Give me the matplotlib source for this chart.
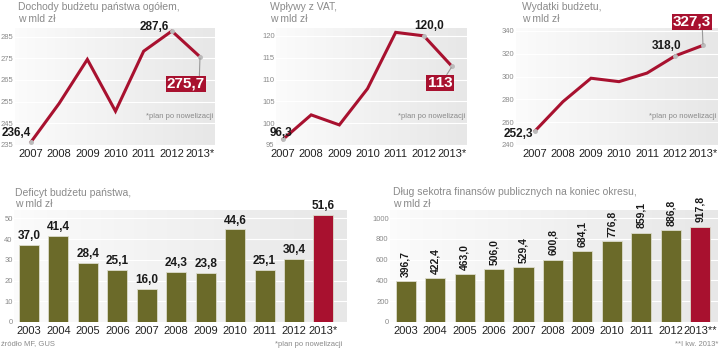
import matplotlib.pyplot as plt
import numpy as np
from matplotlib.colors import LinearSegmentedColormap

# ---- data ----
years_line = ['2007', '2008', '2009', '2010', '2011', '2012', '2013*']
dochody = [236.4, 254.2, 274.5, 250.6, 278.3, 287.6, 275.7]
vat = [96.3, 101.9, 99.6, 107.9, 120.8, 120.0, 113.0]
wydatki = [252.3, 278.0, 298.5, 295.5, 303.0, 318.0, 327.3]

years_bar = ['2003', '2004', '2005', '2006', '2007', '2008', '2009', '2010', '2011', '2012', '2013*']
deficyt = [37.0, 41.4, 28.4, 25.1, 16.0, 24.3, 23.8, 44.6, 25.1, 30.4, 51.6]
dlug = [396.7, 422.4, 463.0, 506.0, 529.4, 600.8, 684.1, 776.8, 859.1, 886.8, 917.8]
years_dlug = years_bar[:-1] + ['2013**']

RED = '#a8112f'
OLIVE = '#6b6a29'
GRAYTXT = '#8a8a8a'
plt.rcParams['font.family'] = ['Liberation Sans', 'DejaVu Sans']

W, H = 720, 351
fig = plt.figure(figsize=(7.2, 3.51), dpi=100)
bg = LinearSegmentedColormap.from_list('bg', ['#fbfbfb', '#e7e7e7'])


def px_axes(l, t, r, b):
    return fig.add_axes([l / W, 1 - b / H, (r - l) / W, (b - t) / H])


def style(ax, yticks, xlabels):
    ax.imshow(np.linspace(0, 1, 50).reshape(1, -1), extent=[0, 1, 0, 1],
              transform=ax.transAxes, aspect='auto', cmap=bg, zorder=0)
    ax.set_yticks(yticks)
    ax.set_yticklabels([str(t) for t in yticks], color=GRAYTXT, fontsize=5.5)
    ax.set_xticks(range(len(xlabels)))
    ax.set_xticklabels(xlabels, fontsize=8, color='#222222')
    ax.tick_params(axis='x', length=0, pad=3)
    ax.tick_params(axis='y', length=0, pad=1)
    for s in ax.spines.values():
        s.set_visible(False)
    for t in yticks:
        ax.axhline(t, color='white', lw=0.8, zorder=1)


def text(x, y, s, **kw):
    fig.text(x / W, 1 - y / H, s, **kw)


def line_chart(box, xfirst, xlast, vals, ylim, yticks, title,
               first_off, peak_off, box_xy, relpos):
    l, t, r, b = box
    ax = px_axes(l, t, r, b)
    style(ax, yticks, years_line)
    step = (xlast - xfirst) / 6
    ax.set_xlim((l - xfirst) / step, 6 + (r - xlast) / step)
    ax.set_ylim(*ylim)
    ax.plot(range(7), vals, color=RED, lw=2.2, zorder=3, solid_joinstyle='miter')
    for i in (0, 5, 6):
        ax.plot(i, vals[i], 'o', ms=2.5, color='#bbbbbb', zorder=4)
    for i, off in ((0, first_off), (5, peak_off)):
        ax.annotate(('%.1f' % vals[i]).replace('.', ','), (i, vals[i]), xytext=off,
                    textcoords='offset points', ha='center', va='center',
                    fontsize=8.5, fontweight='bold', color='#1a1a1a', zorder=6)
    last = vals[6]
    lab = ('%.1f' % last).replace('.', ',') if last % 1 else '%d' % last
    ax.annotate(lab, (6, last), xytext=(box_xy[0], H - box_xy[1]),
                textcoords='figure pixels', ha='center', va='center', fontsize=11,
                fontweight='bold', color='white',
                bbox=dict(boxstyle='square,pad=0.08', fc=RED, ec='none'),
                arrowprops=dict(arrowstyle='-', color='#999999', lw=0.8,
                                shrinkA=0, shrinkB=1, relpos=relpos), zorder=5)
    ax.text(0.99, 0.24, '*plan po nowelizacji', transform=ax.transAxes, ha='right',
            va='center', fontsize=5.5, color=GRAYTXT)
    text(title[0], 7, title[1], fontsize=7.5, color=GRAYTXT, va='center')
    text(title[0], 19, 'w mld zł', fontsize=7.5, color=GRAYTXT, va='center')
    return ax


line_chart((15, 28, 215, 145), 31, 200, dochody, (235, 289),
           [235, 245, 255, 265, 275, 285], (18, 'Dochody budżetu państwa ogółem,'),
           (-10.5, 6.5), (-13, 3), (186, 84), (0.85, 1.0))
line_chart((276, 28, 467, 145), 283, 452, vat, (95, 121.8),
           [95, 100, 105, 110, 115, 120], (270, 'Wpływy z VAT,'),
           (-1.5, 4.5), (3.6, 7), (440, 83), (0.74, 1.0))
line_chart((516, 28, 718, 145), 535, 703, wydatki, (240, 342.5),
           [240, 260, 280, 300, 320, 340], (522, 'Wydatki budżetu,'),
           (-12, -2.5), (-6, 7), (692, 22), (0.77, 0.0))


def bar_chart(box, vals, labels, ylim, yticks, rot):
    l, t, r, b = box
    ax = px_axes(l, t, r, b)
    style(ax, yticks, labels)
    ax.set_ylim(*ylim)
    colors = [OLIVE] * (len(vals) - 1) + [RED]
    ax.bar(range(len(vals)), vals, width=0.68, color=colors, zorder=3,
           edgecolor='#dcdccc', linewidth=0.6)
    for i, v in enumerate(vals):
        s = ('%.1f' % v).replace('.', ',')
        if rot:
            ax.annotate(s, (i, v), xytext=(0, 3), textcoords='offset points',
                        ha='center', va='bottom', rotation=90, fontsize=7.5,
                        fontweight='bold', color='#1a1a1a')
        else:
            ax.annotate(s, (i, v), xytext=(0, 2), textcoords='offset points',
                        ha='center', va='bottom', fontsize=8.5,
                        fontweight='bold', color='#1a1a1a')
    return ax


ax4 = bar_chart((14, 210, 347, 322), deficyt, years_bar, (0, 54),
                [0, 10, 20, 30, 40, 50], False)
ax4.set_xlim(-0.51, 10.8)
ax5 = bar_chart((390, 210, 718, 322), dlug, years_dlug, (0, 1077),
                [0, 200, 400, 600, 800, 1000], True)
ax5.set_xlim(-0.53, 10.6)

text(15, 193, 'Deficyt budżetu państwa,', fontsize=7.5, color=GRAYTXT, va='center')
text(15, 204, 'w mld zł', fontsize=7.5, color=GRAYTXT, va='center')
text(393, 192, 'Dług sekotra finansów publicznych na koniec okresu,', fontsize=7.5,
     color=GRAYTXT, va='center')
text(393, 204, 'w mld zł', fontsize=7.5, color=GRAYTXT, va='center')

text(1, 344, 'źródło MF, GUS', fontsize=5.5, color=GRAYTXT, va='center')
text(342, 345, '*plan po nowelizacji', fontsize=5.5, color=GRAYTXT,
     va='center', ha='right')
text(718, 345, '**I kw. 2013*', fontsize=5.5, color=GRAYTXT, va='center', ha='right')

fig.savefig('out.png', dpi=100)
